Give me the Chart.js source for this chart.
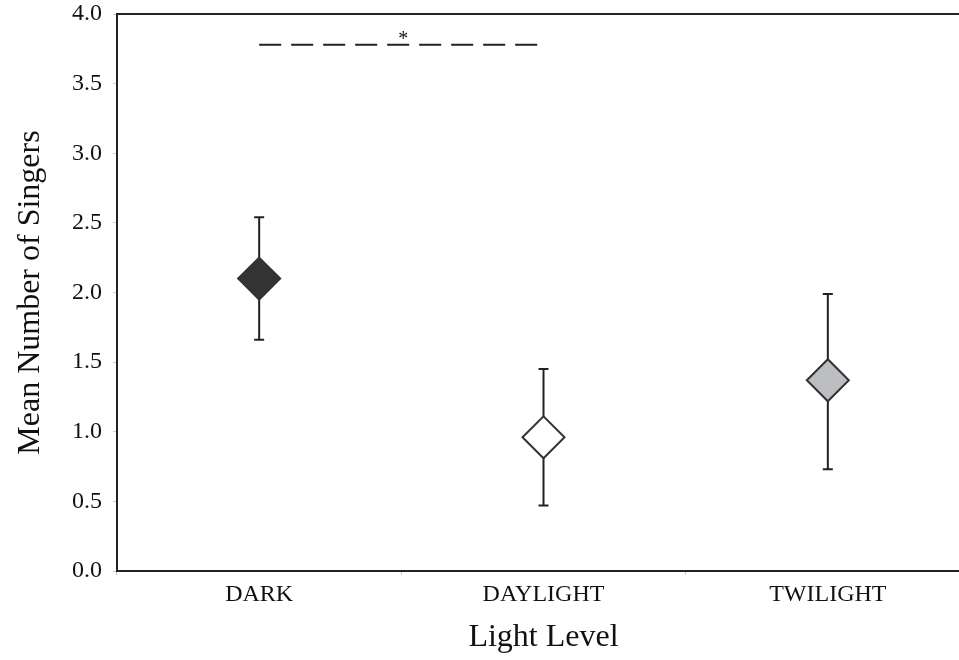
<!DOCTYPE html>
<html>
<head>
<meta charset="utf-8">
<script src="https://cdn.jsdelivr.net/npm/chart.js@4.4.1/dist/chart.umd.min.js"></script>
<style>
  html, body { margin: 0; padding: 0; background: #fff; overflow: hidden; }
  #wrap { width: 972px; height: 660px; }
</style>
</head>
<body>
<div id="wrap"><canvas id="singersChart" width="972" height="660"></canvas></div>
<script>
var lightLevels = ['DARK', 'DAYLIGHT', 'TWILIGHT'];
var meanSingers = [2.10, 0.96, 1.37];
var upperBound = [2.54, 1.45, 1.99];
var lowerBound = [1.66, 0.47, 0.73];
var yTicks = [0, 0.5, 1, 1.5, 2, 2.5, 3, 3.5, 4];
var sigPair = ['DARK', 'DAYLIGHT'];
var sigLevel = 3.78;
var sigMark = '*';

var serif = '"Liberation Serif", "Times New Roman", serif';

// error bars go under the diamonds, frame + asterisk on top
var errorBars = {
  id: 'errorBars',
  beforeDatasetsDraw: function(chart) {
    var ctx = chart.ctx;
    var xs = chart.scales.x, ys = chart.scales.y;
    ctx.save();
    ctx.strokeStyle = '#222';
    ctx.lineWidth = 2;
    for (var i = 0; i < lightLevels.length; i++) {
      var x = xs.getPixelForValue(i);
      var yTop = ys.getPixelForValue(upperBound[i]);
      var yBot = ys.getPixelForValue(lowerBound[i]);
      ctx.beginPath();
      ctx.moveTo(x, yTop); ctx.lineTo(x, yBot);
      ctx.moveTo(x - 5, yTop); ctx.lineTo(x + 5, yTop);
      ctx.moveTo(x - 5, yBot); ctx.lineTo(x + 5, yBot);
      ctx.stroke();
    }
    ctx.restore();
  },
  afterDraw: function(chart) {
    var ctx = chart.ctx;
    var a = chart.chartArea;
    var xs = chart.scales.x, ys = chart.scales.y;
    ctx.save();
    ctx.strokeStyle = '#222';
    ctx.lineWidth = 2;
    ctx.beginPath();
    ctx.moveTo(a.left, a.top); ctx.lineTo(a.right, a.top); ctx.lineTo(a.right, a.bottom);
    ctx.stroke();
    var x0 = xs.getPixelForValue(lightLevels.indexOf(sigPair[0]));
    var x1 = xs.getPixelForValue(lightLevels.indexOf(sigPair[1]));
    ctx.fillStyle = '#111';
    ctx.font = '20px ' + serif;
    ctx.textAlign = 'center';
    ctx.textBaseline = 'alphabetic';
    ctx.fillText(sigMark, (x0 + x1) / 2 + 2, ys.getPixelForValue(sigLevel));
    ctx.restore();
  }
};

var ctx = document.getElementById('singersChart').getContext('2d');
var singersChart = new Chart(ctx, {
  type: 'line',
  data: {
    labels: lightLevels,
    datasets: [{
      label: 'Mean',
      data: meanSingers,
      showLine: false,
      pointStyle: 'rectRot',
      pointRadius: 21,
      pointHoverRadius: 21,
      pointBackgroundColor: ['#333333', '#ffffff', '#bdbec2'],
      pointBorderColor: '#333333',
      pointBorderWidth: 2,
      order: 1
    }, {
      label: 'Significance',
      data: [{ x: sigPair[0], y: sigLevel }, { x: sigPair[1], y: sigLevel }],
      borderColor: '#222',
      borderWidth: 2,
      borderDash: [22, 10],
      pointRadius: 0,
      fill: false,
      order: 2
    }]
  },
  options: {
    responsive: false,
    animation: false,
    devicePixelRatio: 1,
    layout: { autoPadding: false, padding: { top: 14, right: 2, left: 0, bottom: 0 } },
    plugins: {
      legend: { display: false },
      tooltip: { enabled: false }
    },
    scales: {
      x: {
        type: 'category',
        offset: true,
        grid: { display: true, drawOnChartArea: false, offset: true, tickLength: 4, color: '#c8c8c8' },
        border: { display: true, color: '#222', width: 2 },
        ticks: { color: '#111', padding: 5, font: { family: serif, size: 24 } },
        title: {
          display: true,
          text: 'Light Level',
          color: '#111',
          padding: { top: 0, bottom: 3 },
          font: { family: serif, size: 32 }
        },
        afterFit: function(scale) { scale.height = 89; }
      },
      y: {
        min: 0,
        max: 4,
        afterBuildTicks: function(scale) {
          scale.ticks = yTicks.map(function(v) { return { value: v }; });
        },
        grid: { display: true, drawOnChartArea: false, tickLength: 4, color: '#c8c8c8' },
        border: { display: true, color: '#222', width: 2 },
        ticks: {
          color: '#111',
          padding: 11,
          font: { family: serif, size: 24 },
          callback: function(v) { return Number(v).toFixed(1); }
        },
        title: {
          display: true,
          text: 'Mean Number of Singers',
          color: '#111',
          padding: { top: 11, bottom: 0 },
          font: { family: serif, size: 32 }
        },
        afterFit: function(scale) {
          scale.width = 117;
          scale.paddingTop = 0;
          scale.paddingBottom = 0;
        }
      }
    }
  },
  plugins: [errorBars]
});
</script>
</body>
</html>
